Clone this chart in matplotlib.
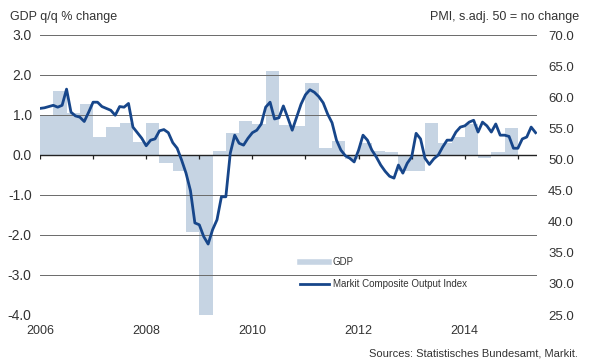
import numpy as np
import matplotlib
matplotlib.use("Agg")
import matplotlib.pyplot as plt
from matplotlib.lines import Line2D

# ---- Data ----
# German GDP, q/q % change, quarterly 2006Q1 .. 2014Q4
gdp_start_year = 2006
gdp_qoq = [
    1.0, 1.6, 1.05, 1.28,      # 2006
    0.44, 0.71, 0.79, 0.32,    # 2007
    0.79, -0.2, -0.39, -1.93,  # 2008
    -4.0, 0.11, 0.54, 0.86,    # 2009
    0.78, 2.1, 0.75, 0.72,     # 2010
    1.81, 0.17, 0.36, -0.1,    # 2011
    0.3, 0.11, 0.07, -0.4,     # 2012
    -0.4, 0.79, 0.3, 0.44,     # 2013
    0.78, -0.08, 0.07, 0.68,   # 2014
]

# Markit Composite Output Index (PMI), monthly from Jan 2006
pmi_start_year = 2006
pmi = [
    58.2, 58.3, 58.5, 58.7, 58.4, 58.7, 61.3, 57.6, 57.0, 56.8, 56.1, 57.6,
    59.2, 59.2, 58.5, 58.2, 57.9, 57.1, 58.5, 58.4, 59.0, 55.2, 54.3, 53.4,
    52.2, 53.1, 53.3, 54.6, 54.8, 54.3, 52.7, 51.8, 49.9, 47.8, 45.0, 39.8,
    39.5, 37.6, 36.4, 38.7, 40.3, 44.0, 44.0, 51.0, 53.9, 52.6, 52.3, 53.4,
    54.3, 54.7, 55.7, 58.4, 59.2, 56.5, 56.7, 58.6, 56.7, 54.7, 56.8, 58.9,
    60.4, 61.2, 60.8, 60.1, 59.1, 57.3, 55.9, 53.1, 51.5, 50.6, 50.2, 49.6,
    51.5, 53.9, 53.1, 51.5, 50.4, 49.1, 48.1, 47.3, 47.0, 49.1, 47.8, 49.4,
    50.4, 54.2, 53.3, 50.2, 49.2, 50.1, 50.7, 52.0, 53.1, 53.1, 54.4, 55.2,
    55.4, 56.0, 56.3, 54.4, 56.0, 55.4, 54.4, 55.7, 53.9, 53.9, 53.7, 51.8,
    51.8, 53.3, 53.6, 55.2, 54.3,
]

left_ticks = [3.0, 2.0, 1.0, 0.0, -1.0, -2.0, -3.0, -4.0]
right_ticks = [70.0, 65.0, 60.0, 55.0, 50.0, 45.0, 40.0, 35.0, 30.0, 25.0]
year_labels = [2006, 2008, 2010, 2012, 2014]
year_marks = list(range(2006, 2016))

BAR_COLOR = "#c6d4e3"
LINE_COLOR = "#17468a"
TEXT_COLOR = "#333333"

plt.rcParams.update({
    "font.family": ["Liberation Sans", "DejaVu Sans"],
    "text.color": TEXT_COLOR,
    "axes.labelcolor": TEXT_COLOR,
    "xtick.color": TEXT_COLOR,
    "ytick.color": TEXT_COLOR,
})

W, H = 590, 364
fig = plt.figure(figsize=(W / 100, H / 100), dpi=100)
fig.patch.set_facecolor("white")
ax = fig.add_axes([40 / W, 1 - 315 / H, 497 / W, 280 / H])

# GDP bars (quarter wide, from the start of each quarter)
q_x = gdp_start_year + np.arange(len(gdp_qoq)) / 4.0
ax.bar(q_x, gdp_qoq, width=0.25, align="edge", color=BAR_COLOR,
       edgecolor="none", linewidth=0, zorder=1)

ax.set_xlim(2006, 2015.36)
ax.set_ylim(-4, 3)
ax.set_yticks(left_ticks)
ax.set_yticklabels([f"{v:.1f}" for v in left_ticks], fontsize=10)
ax.tick_params(axis="y", length=0, pad=6)
ax.set_xticks(year_labels)
ax.set_xticklabels([str(y) for y in year_labels], fontsize=9)
ax.tick_params(axis="x", length=0, pad=7)

ax.grid(True, axis="y", color="#6a6a6a", linewidth=0.7, zorder=1.5)
ax.set_axisbelow("line")
ax.axhline(0, color="#222222", linewidth=1.0, zorder=1.6)
# year tick marks hanging off the zero line
ax.vlines(year_marks, -0.1, 0, color="#222222", linewidth=0.9, zorder=1.6)
for s in ax.spines.values():
    s.set_visible(False)

# PMI on the right axis
ax2 = ax.twinx()
m_x = pmi_start_year + np.arange(len(pmi)) / 12.0
ax2.plot(m_x, pmi, color=LINE_COLOR, linewidth=2.0, solid_joinstyle="round", zorder=3)
ax2.set_ylim(25, 70)
ax2.set_yticks(right_ticks)
ax2.set_yticklabels([f"{v:.1f}" for v in right_ticks], fontsize=9.5)
ax2.tick_params(axis="y", length=0, pad=8)
for s in ax2.spines.values():
    s.set_visible(False)
ax2.set_xlim(2006, 2015.36)

# Legend
handles = [
    Line2D([], [], color=BAR_COLOR, linewidth=4),
    Line2D([], [], color=LINE_COLOR, linewidth=2),
]
ax2.legend(handles, ["GDP", "Markit Composite Output Index"], loc="upper left",
           bbox_to_anchor=(0.515, 0.22), frameon=False, fontsize=7,
           handlelength=3.0, handletextpad=0.4, labelspacing=1.2,
           borderaxespad=0)

# Titles and source
fig.text(10 / W, 1 - 17 / H, "GDP q/q % change", fontsize=9, ha="left", va="center")
fig.text(579 / W, 1 - 17 / H, "PMI, s.adj. 50 = no change", fontsize=9,
         ha="right", va="center")
fig.text(578 / W, 1 - 354 / H, "Sources: Statistisches Bundesamt, Markit.",
         fontsize=8, ha="right", va="center")

fig.savefig("out.png", dpi=100, facecolor="white")
